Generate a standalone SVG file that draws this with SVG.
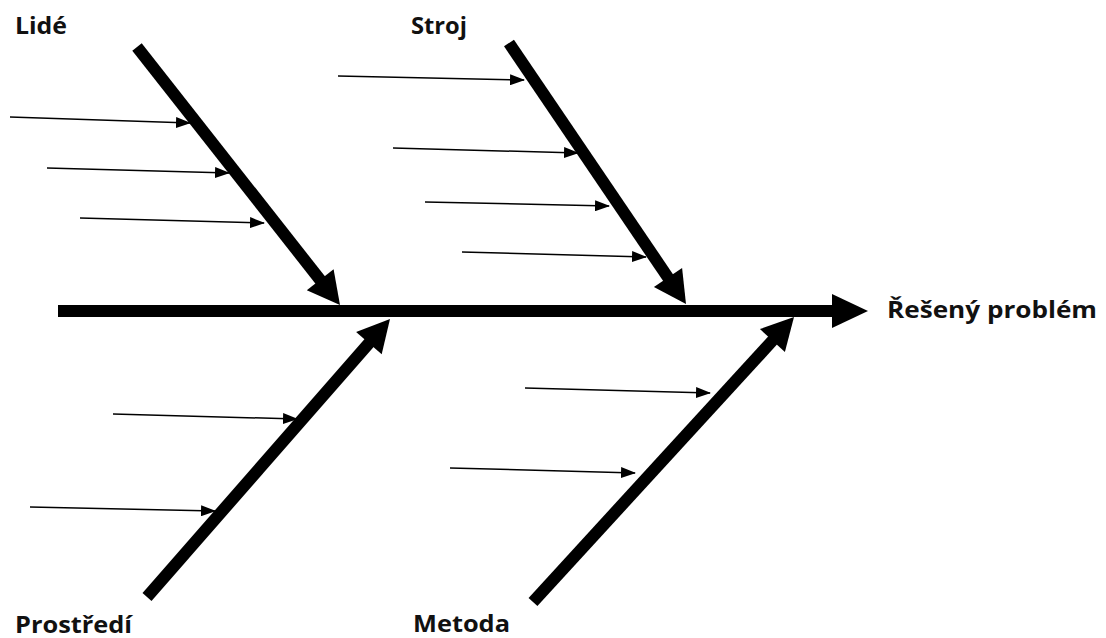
<svg xmlns="http://www.w3.org/2000/svg" width="1106" height="638" viewBox="0 0 1106 638">
<style>
.bone{stroke:#000;stroke-width:12;fill:none}
.head{fill:#000}
.cause{stroke:#000;stroke-width:1.5;fill:none;marker-end:url(#ah)}
.lbl{font-family:"Open Sans","Liberation Sans",sans-serif;font-weight:700;font-size:24px;fill:#111}
</style>
<defs>
<marker id="ah" markerUnits="userSpaceOnUse" markerWidth="15" markerHeight="11" refX="14" refY="5.5" orient="auto">
<path d="M0,0 L15,5.5 L0,11 Z" fill="#000"/>
</marker>
</defs>
<rect width="1106" height="638" fill="#fff"/>
<g id="connectors">
<g id="spine">
<line class="bone" x1="58" y1="311" x2="834" y2="311"/>
<polygon class="head" points="832,294 868,311 832,328"/>
</g>
<g id="bone-lide">
<line class="bone" x1="137" y1="47" x2="321" y2="281"/>
<polygon class="head" points="306.8,290.3 340,305 333.6,269.3"/>
</g>
<g id="bone-stroj">
<line class="bone" x1="509" y1="43" x2="669" y2="279"/>
<polygon class="head" points="653.9,287 686,304 682.1,268"/>
</g>
<g id="bone-prostredi">
<line class="bone" x1="147" y1="597" x2="370" y2="342"/>
<polygon class="head" points="381.7,354.3 390,319 356.1,331.9"/>
</g>
<g id="bone-metoda">
<line class="bone" x1="533" y1="602" x2="773" y2="340"/>
<polygon class="head" points="784.9,352.1 794,317 759.9,329.1"/>
</g>
<g id="causes">
<line class="cause" x1="10" y1="117" x2="190" y2="123"/>
<line class="cause" x1="47" y1="168" x2="229" y2="173"/>
<line class="cause" x1="80" y1="218" x2="264" y2="223"/>
<line class="cause" x1="338" y1="76" x2="524" y2="80"/>
<line class="cause" x1="393" y1="148" x2="578" y2="153"/>
<line class="cause" x1="425" y1="202" x2="609" y2="206"/>
<line class="cause" x1="462" y1="252" x2="646" y2="257"/>
<line class="cause" x1="113" y1="414" x2="297" y2="419"/>
<line class="cause" x1="30" y1="507" x2="215" y2="511"/>
<line class="cause" x1="525" y1="388" x2="710" y2="393"/>
<line class="cause" x1="450" y1="468" x2="635" y2="473"/>
</g>
</g>
<g id="node-lide"><text class="lbl" x="15" y="34" textLength="52" lengthAdjust="spacingAndGlyphs">Lidé</text></g>
<g id="node-stroj"><text class="lbl" x="411" y="34" textLength="56" lengthAdjust="spacingAndGlyphs">Stroj</text></g>
<g id="node-problem"><text class="lbl" x="887" y="318" textLength="210" lengthAdjust="spacingAndGlyphs">Řešený problém</text></g>
<g id="node-prostredi"><text class="lbl" x="15" y="633" textLength="117" lengthAdjust="spacingAndGlyphs">Prostředí</text></g>
<g id="node-metoda"><text class="lbl" x="413" y="632" textLength="97" lengthAdjust="spacingAndGlyphs">Metoda</text></g>
</svg>
